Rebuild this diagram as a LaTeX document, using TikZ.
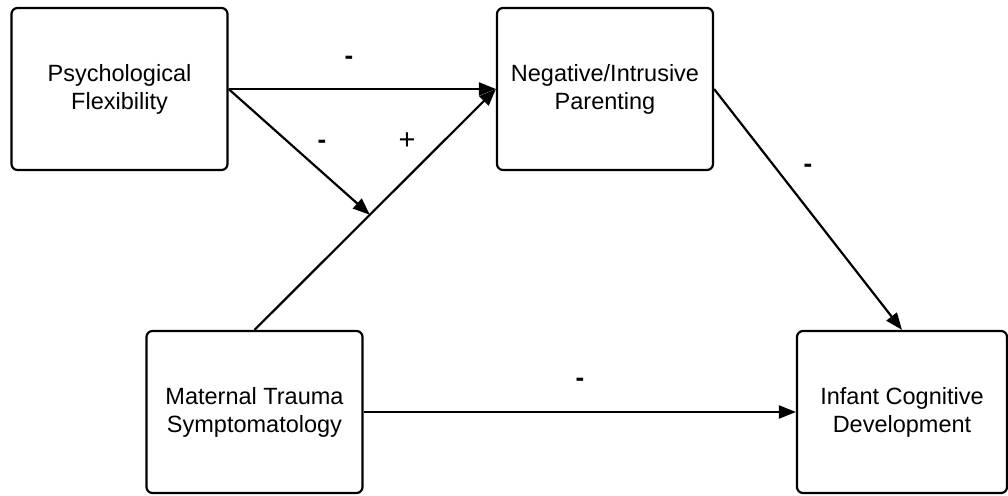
\documentclass[tikz,border=0pt]{standalone}
\usepackage{fontspec}
\setmainfont{Liberation Sans}
\usetikzlibrary{arrows.meta,calc}
\begin{document}
\begin{tikzpicture}[x=1pt,y=-1pt,
  box/.style={draw=black, line width=2.2pt, rounded corners=6pt, fill=white,
    minimum width=216pt, minimum height=162pt, align=center, inner sep=0pt,
    font=\fontsize{23.5}{28}\selectfont},
  conn/.style={line width=2.2pt, -{Triangle[length=17pt,width=13pt]}},
  sign/.style={font=\fontsize{26}{28}\selectfont\bfseries, inner sep=0pt},
  plus/.style={font=\fontsize{29}{28}\selectfont, inner sep=0pt}]
\useasboundingbox (0,0) rectangle (1008,495);
\node[box] (pf)  at (119.5,89)  {Psychological\\Flexibility};
\node[box] (nip) at (605,89)    {Negative/Intrusive\\Parenting};
\node[box] (mts) at (254.5,412) {Maternal Trauma\\Symptomatology};
\node[box, minimum width=210pt] (icd) at (902,412) {Infant Cognitive\\Development};
\coordinate (m) at ($(mts.north)!0.478!(nip.west)$);
\draw[conn] (pf.east) -- (nip.west);
\draw[conn] (mts.north) -- (nip.west);
\draw[conn] (pf.east) -- (m);
\draw[conn] (nip.east) -- (icd.north);
\draw[conn] (mts.east) -- (icd.west);
\node[sign] (s1) at (349,60)  {-};
\node[sign] (s2) at (322,144) {-};
\node[plus] (s3) at (407,141) {+};
\node[sign] (s4) at (808,168) {-};
\node[sign] (s5) at (580,382) {-};
\end{tikzpicture}
\end{document}
